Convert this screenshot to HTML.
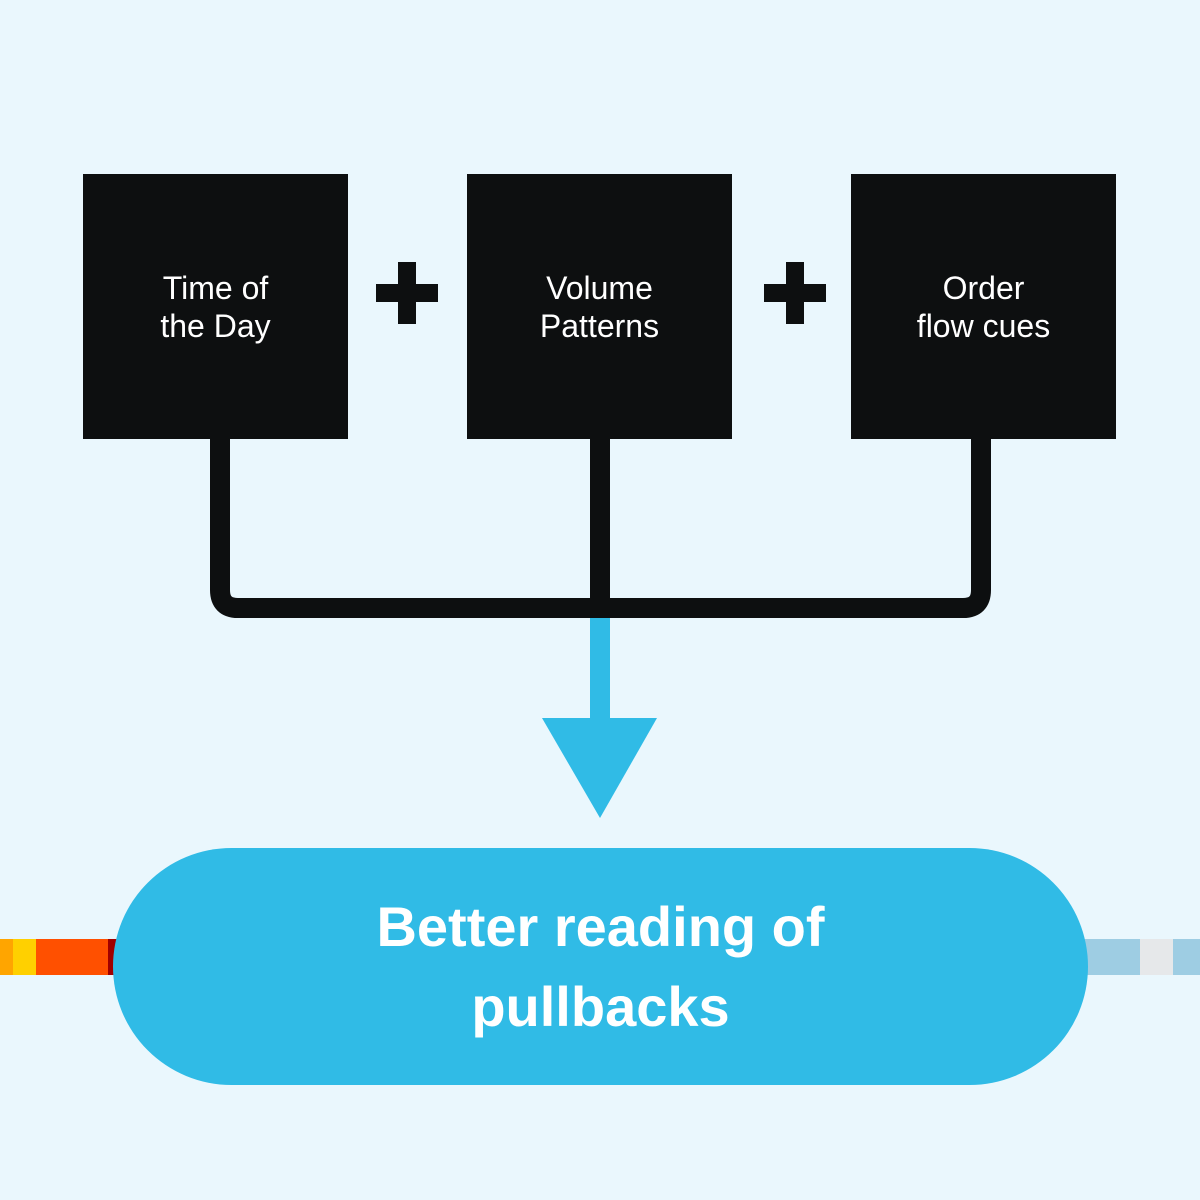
<!DOCTYPE html>
<html><head><meta charset="utf-8"><style>
html,body{margin:0;padding:0;}
body{width:1200px;height:1200px;background:#EAF7FD;position:relative;overflow:hidden;font-family:"Liberation Sans",sans-serif;}
.box{position:absolute;top:174px;width:265px;height:265px;background:#0D0F10;color:#fff;display:flex;align-items:center;justify-content:center;text-align:center;font-size:32px;line-height:38px;}
.seg{position:absolute;top:939px;height:36px;}
</style></head><body>
<div class="seg" style="left:0;width:13px;background:#FFA500"></div>
<div class="seg" style="left:13px;width:23px;background:#FFD000"></div>
<div class="seg" style="left:36px;width:72px;background:#FF5000"></div>
<div class="seg" style="left:108px;width:10px;background:#A00000"></div>
<div class="seg" style="left:1080px;width:60px;background:#9ECDE3"></div>
<div class="seg" style="left:1140px;width:33px;background:#E6E8EA"></div>
<div class="seg" style="left:1173px;width:27px;background:#9ECDE3"></div>
<svg width="1200" height="1200" style="position:absolute;left:0;top:0">
<path d="M220 430 V590 Q220 608 238 608 H963 Q981 608 981 590 V430" fill="none" stroke="#0D0F10" stroke-width="20"/>
<line x1="600" y1="430" x2="600" y2="608" stroke="#0D0F10" stroke-width="20"/>
<rect x="590" y="618" width="20" height="104" fill="#30BBE6"/>
<polygon points="542,718 657,718 600,818" fill="#30BBE6"/>
<rect x="376" y="284" width="62" height="18" fill="#0D0F10"/>
<rect x="398" y="262" width="18" height="62" fill="#0D0F10"/>
<rect x="764" y="284" width="62" height="18" fill="#0D0F10"/>
<rect x="786" y="262" width="18" height="62" fill="#0D0F10"/>
<rect x="113" y="848" width="975" height="237" rx="118.5" fill="#30BBE6"/>
</svg>
<div class="box" style="left:83px">Time of<br>the Day</div>
<div class="box" style="left:467px">Volume<br>Patterns</div>
<div class="box" style="left:851px">Order<br>flow cues</div>
<div style="position:absolute;left:113px;top:848px;width:975px;height:237px;display:flex;align-items:center;justify-content:center;text-align:center;color:#fff;font-weight:bold;font-size:56px;line-height:80px;">Better reading of<br>pullbacks</div>
</body></html>
